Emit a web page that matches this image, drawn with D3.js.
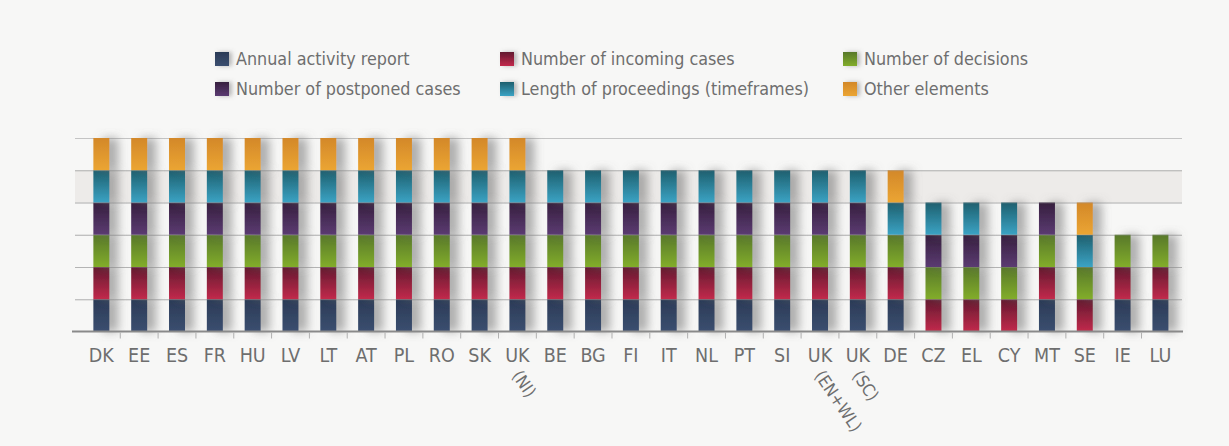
<!DOCTYPE html>
<html>
<head>
<meta charset="utf-8">
<script src="https://cdn.jsdelivr.net/npm/d3@7"></script>
<style>
  body { margin: 0; background: #f7f7f6; }
  svg { display: block; }
  text { font-family: "DejaVu Sans Condensed", "Liberation Sans Narrow", sans-serif; fill: #6e6e6e; }
</style>
</head>
<body>
<div id="chart"></div>
<script>
// Data: 1 = element present in the report, 0 = absent
const categories = ["DK", "EE", "ES", "FR", "HU", "LV", "LT", "AT", "PL", "RO", "SK", "UK (NI)",
  "BE", "BG", "FI", "IT", "NL", "PT", "SI", "UK (EN+WL)", "UK (SC)",
  "DE", "CZ", "EL", "CY", "MT", "SE", "IE", "LU"];
const annual    = [1,1,1,1,1,1,1,1,1,1,1,1, 1,1,1,1,1,1,1,1,1, 1,0,0,0,1,0,1,1];
const incoming  = [1,1,1,1,1,1,1,1,1,1,1,1, 1,1,1,1,1,1,1,1,1, 1,1,1,1,1,1,1,1];
const decisions = [1,1,1,1,1,1,1,1,1,1,1,1, 1,1,1,1,1,1,1,1,1, 1,1,1,1,1,1,1,1];
const postponed = [1,1,1,1,1,1,1,1,1,1,1,1, 1,1,1,1,1,1,1,1,1, 0,1,1,1,1,0,0,0];
const lengthTf  = [1,1,1,1,1,1,1,1,1,1,1,1, 1,1,1,1,1,1,1,1,1, 1,1,1,1,0,1,0,0];
const other     = [1,1,1,1,1,1,1,1,1,1,1,1, 0,0,0,0,0,0,0,0,0, 1,0,0,0,0,1,0,0];

const seriesNames = ["Annual activity report", "Number of incoming cases", "Number of decisions",
  "Number of postponed cases", "Length of proceedings (timeframes)", "Other elements"];
const seriesKeys = ["annual", "incoming", "decisions", "postponed", "lengthTf", "other"];
const seriesValues = [annual, incoming, decisions, postponed, lengthTf, other];
// [dark top, light bottom]
const colors = [["#2b3a56", "#3b4f70"], ["#62192f", "#c22a4c"], ["#58782a", "#82ad2c"],
  ["#361f3e", "#5b3b72"], ["#1e5f6e", "#3ba3c4"], ["#d3882a", "#eba532"]];

const W = 1229, H = 446;
const table = categories.map((c, i) => {
  const row = { cat: c };
  seriesKeys.forEach((k, j) => row[k] = seriesValues[j][i]);
  return row;
});
const stacked = d3.stack().keys(seriesKeys)(table);

const svg = d3.select("#chart").append("svg").attr("width", W).attr("height", H);
const defs = svg.append("defs");
colors.forEach((c, i) => {
  const g = defs.append("linearGradient").attr("id", "grad" + i)
    .attr("x1", 0).attr("y1", 0).attr("x2", 0).attr("y2", 1);
  g.append("stop").attr("offset", "0%").attr("stop-color", c[0]);
  g.append("stop").attr("offset", "100%").attr("stop-color", c[1]);
});
const f = defs.append("filter").attr("id", "shadow")
  .attr("x", "-80%").attr("y", "-30%").attr("width", "300%").attr("height", "160%");
f.append("feDropShadow").attr("dx", 9).attr("dy", 0).attr("stdDeviation", 5)
  .attr("flood-color", "#6f6f6f").attr("flood-opacity", 0.55);
const fl = defs.append("filter").attr("id", "lshadow")
  .attr("x", "-50%").attr("y", "-50%").attr("width", "220%").attr("height", "200%");
fl.append("feDropShadow").attr("dx", 3).attr("dy", 0).attr("stdDeviation", 2)
  .attr("flood-color", "#777").attr("flood-opacity", 0.5);

// Scales
const x = d3.scaleBand().domain(categories).range([82.4, 1179.4]).paddingInner(0.577).paddingOuter(0.29);
const y = d3.scaleLinear().domain([0, 6]).range([331.5, 138]);

// shaded band
svg.append("rect").attr("x", 75).attr("width", 1182 - 75)
  .attr("y", y(5)).attr("height", y(4) - y(5)).attr("fill", "#edebe9");

// grid lines
svg.append("g")
  .attr("transform", "translate(75,0)")
  .call(d3.axisLeft(y).tickValues([1, 2, 3, 4, 5, 6]).tickSize(-(1182 - 75)).tickFormat(""))
  .call(g => g.select(".domain").remove())
  .call(g => g.selectAll(".tick line").attr("stroke", "#c4c4c4").attr("stroke-width", 1));

// bars
const groups = svg.append("g").selectAll("g").data(stacked).join("g")
  .attr("fill", (d, i) => `url(#grad${i})`);
groups.selectAll("rect").data(d => d.filter(s => s[1] > s[0]).map(s => ({ s, cat: s.data.cat })))
  .join("rect")
  .attr("x", d => x(d.cat))
  .attr("width", x.bandwidth())
  .attr("y", d => y(d.s[1]))
  .attr("height", d => y(d.s[0]) - y(d.s[1]))
  .attr("filter", "url(#shadow)");

// thin lines over bars at segment boundaries
svg.append("g").attr("transform", "translate(75,0)")
  .call(d3.axisLeft(y).tickValues([1, 2, 3, 4, 5]).tickSize(-(1182 - 75)).tickFormat(""))
  .call(g => g.select(".domain").remove())
  .call(g => g.selectAll(".tick line").attr("stroke", "#999").attr("stroke-opacity", 0.35));

// x axis
const step = x.step();
const xAxis = svg.append("g").attr("transform", `translate(0,${y(0)})`);
xAxis.append("line").attr("x1", 72).attr("x2", 1183).attr("stroke", "#8a8a8a").attr("stroke-width", 2);
xAxis.selectAll(".tk").data(categories.slice(0, -1)).join("line")
  .attr("x1", d => x(d) + x.bandwidth() / 2 + step / 2)
  .attr("x2", d => x(d) + x.bandwidth() / 2 + step / 2)
  .attr("y1", 1).attr("y2", 7).attr("stroke", "#b0b0b0");
xAxis.selectAll(".lbl").data(categories).join("text")
  .attr("x", d => x(d) + x.bandwidth() / 2)
  .attr("y", 30)
  .attr("text-anchor", "middle")
  .attr("font-size", 19.5)
  .text(d => d.split(" ")[0]);
xAxis.selectAll(".sub").data(categories.filter(c => c.includes(" "))).join("text")
  .attr("transform", d => `translate(${x(d) + x.bandwidth() / 2 - 6},${44}) rotate(56)`)
  .attr("font-size", 17)
  .text(d => d.split(" ")[1]);

// legend
const legX = [215, 500, 843], legY = [59, 89];
const leg = svg.append("g").selectAll("g").data(seriesNames).join("g")
  .attr("transform", (d, i) => `translate(${legX[i % 3]},${legY[Math.floor(i / 3)]})`);
leg.append("rect").attr("x", 0).attr("y", -7).attr("width", 14).attr("height", 14)
  .attr("fill", (d, i) => `url(#grad${i})`).attr("filter", "url(#lshadow)");
leg.append("text").attr("x", 21).attr("y", 6).attr("font-size", 17.8).text(d => d);
</script>
</body>
</html>
